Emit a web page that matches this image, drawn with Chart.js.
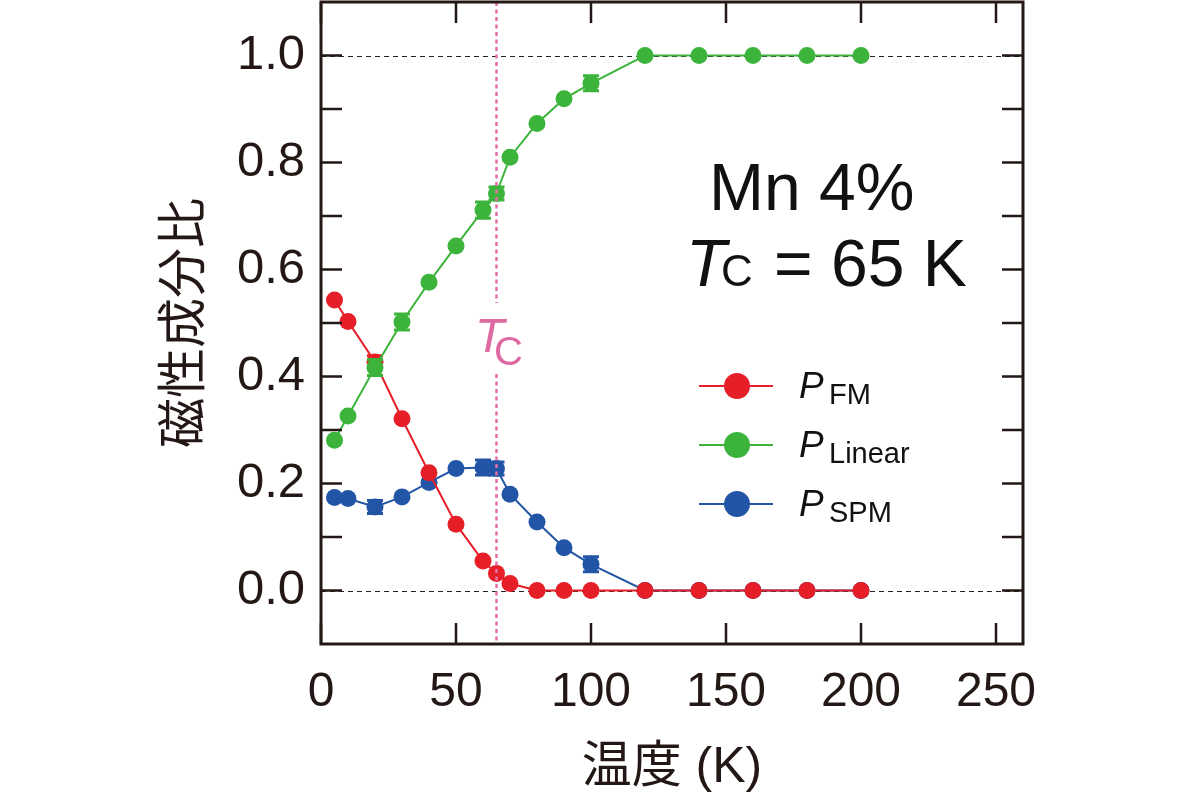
<!DOCTYPE html>
<html>
<head>
<meta charset="utf-8">
<script src="https://cdn.jsdelivr.net/npm/chart.js@4/dist/chart.umd.min.js"></script>
<style>
html,body{margin:0;padding:0;background:#fff;}
#wrap{width:1200px;height:800px;}
</style>
</head>
<body>
<div id="wrap"><canvas id="c" width="1200" height="800"></canvas></div>
<script>
// ---- data ----
const temperatures = [5, 10, 20, 30, 40, 50, 60, 65, 70, 80, 90, 100, 120, 140, 160, 180, 200];
const pFM     = [0.543, 0.503, 0.427, 0.321, 0.220, 0.124, 0.055, 0.032, 0.013, 0, 0, 0, 0, 0, 0, 0, 0];
const pLinear = [0.281, 0.326, 0.417, 0.502, 0.576, 0.644, 0.711, 0.742, 0.810, 0.873, 0.919, 0.948, 1, 1, 1, 1, 1];
const pSPM    = [0.174, 0.172, 0.156, 0.175, 0.202, 0.228, 0.230, 0.228, 0.180, 0.128, 0.080, 0.049, 0, 0, 0, 0, 0];
const errFM     = [0, 0, 0.012, 0, 0, 0, 0, 0, 0, 0, 0, 0, 0, 0, 0, 0, 0];
const errLinear = [0, 0, 0.015, 0.015, 0, 0, 0.015, 0.012, 0, 0, 0, 0.014, 0, 0, 0, 0, 0];
const errSPM    = [0, 0, 0.012, 0, 0, 0, 0.014, 0.012, 0, 0, 0, 0.014, 0, 0, 0, 0, 0];
const seriesSubs = ['FM', 'Linear', 'SPM'];
const xTickValues = [0, 50, 100, 150, 200, 250];
const yTickValues = [0, 0.2, 0.4, 0.6, 0.8, 1.0];
const yTickLabels = ['0.0', '0.2', '0.4', '0.6', '0.8', '1.0'];
const yMinorTicks = [0.1, 0.3, 0.5, 0.7, 0.9];
const refLines = [0, 1];
const curieTemp = 65;
const xTitle = '温度 (K)';
const yTitle = '磁性成分比';
const noteLine1 = 'Mn 4%';
const noteLine2 = ' = 65 K';

// ---- styles ----
const FONT = "'Liberation Sans', Arial, 'Noto Sans CJK JP', sans-serif";
const INK = '#231815';
const RED = '#E61E28';
const GREEN = '#3CB43C';
const BLUE = '#2355A6';
const PINK = '#E46FA8';

function pts(vals){ return temperatures.map((t, i) => ({x: t, y: vals[i]})); }

const seriesVals = [pLinear, pFM, pSPM];
const seriesErrs = [errLinear, errFM, errSPM];

const decor = {
  id: 'decor',
  beforeDatasetsDraw(chart){
    const {ctx, chartArea: a, scales: {y}} = chart;
    ctx.save();
    ctx.strokeStyle = '#222';
    ctx.lineWidth = 1.2;
    ctx.setLineDash([5, 4]);
    refLines.forEach(v => {
      const py = Math.round(y.getPixelForValue(v)) + 0.5;
      ctx.beginPath(); ctx.moveTo(a.left, py); ctx.lineTo(a.right, py); ctx.stroke();
    });
    ctx.restore();
  },
  afterDatasetDraw(chart, args){
    const {ctx, scales: {x, y}} = chart;
    const errs = seriesErrs[args.index];
    const vals = seriesVals[args.index];
    const col = chart.data.datasets[args.index].borderColor;
    ctx.save();
    ctx.strokeStyle = col; ctx.lineWidth = 3;
    temperatures.forEach((t, i) => {
      const e = errs[i];
      if (!e) return;
      const px = x.getPixelForValue(t);
      const top = y.getPixelForValue(vals[i] + e);
      const bot = y.getPixelForValue(vals[i] - e);
      ctx.beginPath();
      ctx.moveTo(px, top); ctx.lineTo(px, bot);
      ctx.moveTo(px - 8, top); ctx.lineTo(px + 8, top);
      ctx.moveTo(px - 8, bot); ctx.lineTo(px + 8, bot);
      ctx.stroke();
    });
    ctx.restore();
  },
  afterDatasetsDraw(chart){
    const {ctx, chartArea: a, scales: {x}} = chart;
    // Tc line
    const tx = x.getPixelForValue(curieTemp);
    ctx.save();
    ctx.strokeStyle = PINK; ctx.lineWidth = 2.5; ctx.setLineDash([4, 3.5]);
    ctx.beginPath(); ctx.moveTo(tx, a.top); ctx.lineTo(tx, 303); ctx.stroke();
    ctx.beginPath(); ctx.moveTo(tx, 374); ctx.lineTo(tx, a.bottom); ctx.stroke();
    ctx.setLineDash([]);
    ctx.fillStyle = '#DE6AA2';
    ctx.textBaseline = 'alphabetic'; ctx.textAlign = 'left';
    ctx.font = "italic 48px " + FONT;
    ctx.fillText('T', 475, 352);
    ctx.font = "40px " + FONT;
    ctx.fillText('C', 494, 365);

    // annotation
    ctx.fillStyle = '#111';
    ctx.font = "66px " + FONT;
    ctx.fillText(noteLine1, 709, 210);
    ctx.font = "italic 66px " + FONT;
    ctx.fillText('T', 686, 286);
    ctx.font = "44px " + FONT;
    ctx.fillText('C', 721, 286);
    const cw = ctx.measureText('C').width;
    ctx.font = "66px " + FONT;
    ctx.fillText(noteLine2, 724 + cw, 286);

    // legend
    const rows = [[RED, 386], [GREEN, 445], [BLUE, 504]];
    rows.forEach(([col, cy], i) => {
      ctx.strokeStyle = col; ctx.lineWidth = 2;
      ctx.beginPath(); ctx.moveTo(699, cy); ctx.lineTo(773, cy); ctx.stroke();
      ctx.fillStyle = col;
      ctx.beginPath(); ctx.arc(737, cy, 13, 0, Math.PI * 2); ctx.fill();
      ctx.fillStyle = '#111';
      ctx.font = "italic 37px " + FONT;
      ctx.fillText('P', 799, cy + 12);
      ctx.font = "29px " + FONT;
      ctx.fillText(seriesSubs[i], 829, cy + 18);
    });
    ctx.restore();
  },
  afterDraw(chart){
    const {ctx, chartArea: a, scales: {x, y}} = chart;
    ctx.save();
    ctx.strokeStyle = INK;
    ctx.lineWidth = 2.5;
    const L = 21;
    ctx.beginPath();
    xTickValues.forEach(v => {
      const px = x.getPixelForValue(v);
      ctx.moveTo(px, a.bottom); ctx.lineTo(px, a.bottom - L);
      ctx.moveTo(px, a.top); ctx.lineTo(px, a.top + L);
    });
    yTickValues.concat(yMinorTicks).forEach(v => {
      const py = y.getPixelForValue(v);
      ctx.moveTo(a.left, py); ctx.lineTo(a.left + L, py);
      ctx.moveTo(a.right, py); ctx.lineTo(a.right - L, py);
    });
    ctx.stroke();
    ctx.lineWidth = 3;
    ctx.strokeRect(a.left, a.top, a.right - a.left, a.bottom - a.top);
    ctx.restore();
  }
};

new Chart(document.getElementById('c'), {
  type: 'line',
  data: {
    datasets: [
      {label: 'P_Linear', data: pts(pLinear), borderColor: GREEN, backgroundColor: GREEN, pointBackgroundColor: GREEN, order: 0},
      {label: 'P_FM', data: pts(pFM), borderColor: RED, backgroundColor: RED, pointBackgroundColor: RED, order: 1},
      {label: 'P_SPM', data: pts(pSPM), borderColor: BLUE, backgroundColor: BLUE, pointBackgroundColor: BLUE, order: 2}
    ]
  },
  options: {
    responsive: false,
    animation: false,
    devicePixelRatio: 1,
    layout: {autoPadding: false, padding: {left: 156, right: 177, top: 2, bottom: 0}},
    plugins: {legend: {display: false}, tooltip: {enabled: false}},
    elements: {
      line: {borderWidth: 2, tension: 0, fill: false},
      point: {radius: 8.5, borderWidth: 0, hoverRadius: 8.5, pointStyle: 'circle'}
    },
    scales: {
      x: {
        type: 'linear', min: 0, max: 260,
        grid: {display: false, drawTicks: false},
        border: {display: false},
        afterBuildTicks(s){ s.ticks = xTickValues.map(v => ({value: v})); },
        afterFit(s){ s.height = 156; s.paddingLeft = 0; s.paddingRight = 0; },
        ticks: {padding: 20, color: INK, font: {family: FONT, size: 48}, maxRotation: 0, autoSkip: false},
        title: {display: true, text: xTitle, color: INK, font: {family: FONT, size: 50}, padding: {top: 0, bottom: 2}}
      },
      y: {
        type: 'linear', min: -0.1, max: 1.1,
        grid: {display: false, drawTicks: false},
        border: {display: false},
        afterBuildTicks(s){ s.ticks = yTickValues.map(v => ({value: v})); },
        afterFit(s){ s.width = 165; s.paddingTop = 0; s.paddingBottom = 0; },
        ticks: {padding: 16, color: INK, font: {family: FONT, size: 49}, autoSkip: false,
          callback: (v, i) => yTickLabels[i]},
        title: {display: true, text: yTitle, color: INK, font: {family: FONT, size: 50}, padding: {top: 0, bottom: 0}}
      }
    }
  },
  plugins: [decor]
});
</script>
</body>
</html>
